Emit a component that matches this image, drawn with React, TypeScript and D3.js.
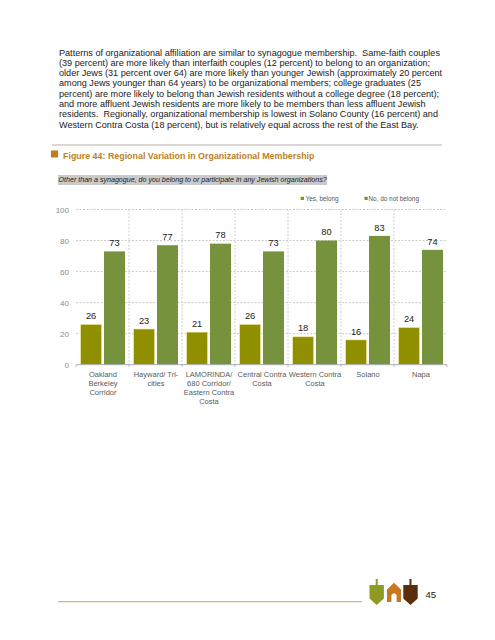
import React from "react";
import * as d3 from "d3";

const categories = [
  ["Oakland", "Berkeley", "Corridor"],
  ["Hayward/ Tri-", "cities"],
  ["LAMORINDA/", "680 Corridor/", "Eastern Contra", "Costa"],
  ["Central Contra", "Costa"],
  ["Western Contra", "Costa"],
  ["Solano"],
  ["Napa"],
];
const yesValues = [26, 23, 21, 26, 18, 16, 24];
const noValues = [73, 77, 78, 73, 80, 83, 74];
const yTicks = [0, 20, 40, 60, 80, 100];
const bodyLines = [
  "Patterns of organizational affiliation are similar to synagogue membership.  Same-faith couples",
  "(39 percent) are more likely than interfaith couples (12 percent) to belong to an organization;",
  "older Jews (31 percent over 64) are more likely than younger Jewish (approximately 20 percent",
  "among Jews younger than 64 years) to be organizational members; college graduates (25",
  "percent) are more likely to belong than Jewish residents without a college degree (18 percent);",
  "and more affluent Jewish residents are more likely to be members than less affluent Jewish",
  "residents.  Regionally, organizational membership is lowest in Solano County (16 percent) and",
  "Western Contra Costa (18 percent), but is relatively equal across the rest of the East Bay.",
];
const title = "Figure 44: Regional Variation in Organizational Membership";
const question = "Other than a synagogue, do you belong to or participate in any Jewish organizations?";
const legendLabels = ["Yes, belong", "No, do not belong"];
const pageNumber = "45";

const OLIVE = "#8f8f00";
const GREEN = "#76923c";
const FONT = "'Liberation Sans', Arial, sans-serif";

export default function App() {
  const x = d3.scaleBand<number>().domain(d3.range(categories.length)).range([76, 447]);
  const y = d3.scaleLinear().domain([0, 100]).range([364.7, 209.5]);
  const barW = 21;
  const offsets = [4.6, 28];

  return (
    <svg width={495} height={640} style={{ position: "absolute", left: 0, top: 0, background: "#fff" }} fontFamily={FONT}>
      {bodyLines.map((l, i) => (
        <text key={i} x={59} y={55.5 + i * 10.32} fontSize={9.1} fill="#1a1a1a" style={{ whiteSpace: "pre" }}>{l}</text>
      ))}

      <line x1={52} x2={442} y1={145} y2={145} stroke="#b5b0a8" strokeWidth={1} />
      <rect x={51} y={150.5} width={7} height={7} fill="#c8791a" />
      <text x={63} y={158.5} fontSize={8.9} fontWeight="bold" fill="#c07f1e">{title}</text>

      <rect x={58} y={175} width={269} height={10} fill="#c9c9c9" />
      <text x={58.5} y={182.3} fontSize={7.1} fontStyle="italic" fill="#222">{question}</text>

      {/* legend */}
      <rect x={300.7} y={196.8} width={3.2} height={3.2} fill={OLIVE} />
      <text x={305.5} y={201.3} fontSize={6.4} fill="#555">{legendLabels[0]}</text>
      <rect x={364.5} y={196.8} width={3.2} height={3.2} fill={GREEN} />
      <text x={368.5} y={201.3} fontSize={6.4} fill="#555">{legendLabels[1]}</text>

      {/* grid */}
      {yTicks.filter((t) => t > 0).map((t) => (
        <line key={t} x1={76} x2={447} y1={y(t)} y2={y(t)} stroke="#bdbdbd" strokeDasharray="2 1.5" strokeWidth={0.8} />
      ))}
      {d3.range(1, categories.length).map((i) => (
        <line key={i} x1={x(i)} x2={x(i)} y1={y(100)} y2={y(0)} stroke="#bfc3d0" strokeDasharray="2 1.5" strokeWidth={0.8} />
      ))}
      {yTicks.map((t) => (
        <text key={t} x={69} y={y(t) + 3} fontSize={8} textAnchor="end" fill="#8a8a8a">{t}</text>
      ))}

      {/* bars */}
      {categories.map((_, i) => {
        const x0 = x(i)! + offsets[0];
        const x1 = x(i)! + offsets[1];
        return (
          <g key={i}>
            <rect x={x0} y={y(yesValues[i])} width={barW} height={y(0) - y(yesValues[i])} fill={OLIVE} stroke="#f3efa6" strokeWidth={0.6} />
            <rect x={x1} y={y(noValues[i])} width={barW} height={y(0) - y(noValues[i])} fill={GREEN} />
            <text x={x0 + barW / 2} y={y(yesValues[i]) - 5.3} fontSize={9.3} textAnchor="middle" fill="#222">{yesValues[i]}</text>
            <text x={x1 + barW / 2} y={y(noValues[i]) - 5.3} fontSize={9.3} textAnchor="middle" fill="#222">{noValues[i]}</text>
          </g>
        );
      })}

      {/* axis */}
      <line x1={76} x2={447} y1={y(0)} y2={y(0)} stroke="#a8adb8" strokeWidth={1} />
      {d3.range(0, categories.length + 1).map((i) => (
        <line key={i} x1={x.step() * i + 76} x2={x.step() * i + 76} y1={y(0)} y2={y(0) + 2.5} stroke="#a8adb8" strokeWidth={0.8} />
      ))}

      {/* category labels */}
      {categories.map((lines, i) => (
        <text key={i} fontSize={7.5} textAnchor="middle" fill="#5a5a5a">
          {lines.map((l, j) => (
            <tspan key={j} x={x(i)! + x.bandwidth() / 2 + 0.5} y={377 + j * 9}>{l}</tspan>
          ))}
        </text>
      ))}

      {/* footer */}
      <line x1={58} x2={362} y1={601.7} y2={601.7} stroke="#d4a24a" strokeWidth={1} />
      <Dreidel x={376.7} color="#8f9a22" />
      <House x={394} color="#c8791f" />
      <Dreidel x={410.5} color="#5a2d0c" />
      <text x={425.5} y={597.8} fontSize={9.6} fill="#222">{pageNumber}</text>
    </svg>
  );
}

function Dreidel({ x, color }: { x: number; color: string }) {
  return (
    <g fill={color}>
      <rect x={x - 1} y={579} width={2} height={6} />
      <path d={`M${x - 7.2} 585 H${x + 7.2} V598.5 L${x} 605 L${x - 7.2} 598.5 Z`} />
    </g>
  );
}

function House({ x, color }: { x: number; color: string }) {
  return (
    <path
      fill={color}
      fillRule="evenodd"
      d={`M${x} 582.7 L${x + 7} 589.5 V602 H${x + 2.6} V595 Q${x} 591.5 ${x - 2.6} 595 V602 H${x - 7} V589.5 Z`}
    />
  );
}
